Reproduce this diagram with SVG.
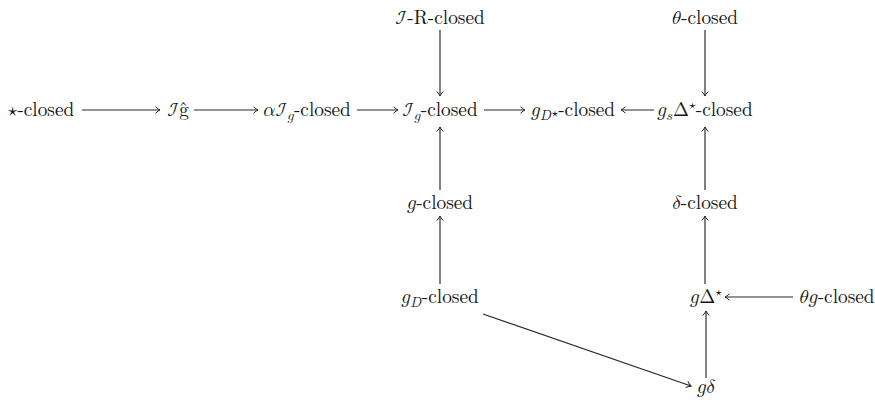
<svg xmlns="http://www.w3.org/2000/svg" width="875" height="402" viewBox="0 0 875 402">
  <style>
    text { font-family: "Latin Modern Roman"; font-size: 19.3px; fill: #151515; text-anchor: middle; }
    .mm { font-family: "Latin Modern Math"; }
    .sub { font-size: 13.6px; }
    .edge { stroke: #262626; stroke-width: 1.15; fill: none; marker-end: url(#tip); }
  </style>
  <defs>
    <marker id="tip" viewBox="-6 -4 7 8" markerWidth="7" markerHeight="8" refX="0" refY="0" orient="auto" markerUnits="userSpaceOnUse">
      <path d="M -4.5 -3.2 Q -1.5 -0.6 0 0 Q -1.5 0.6 -4.5 3.2" stroke="#262626" stroke-width="1" fill="none"/>
    </marker>
  </defs>

  <g id="connectors">
    <line class="edge" x1="82" y1="110" x2="160" y2="110"/>
    <line class="edge" x1="194" y1="110" x2="258" y2="110"/>
    <line class="edge" x1="357" y1="110" x2="398" y2="110"/>
    <line class="edge" x1="484" y1="110" x2="525" y2="110"/>
    <line class="edge" x1="654" y1="110" x2="621" y2="110"/>
    <line class="edge" x1="440" y1="30" x2="440" y2="96"/>
    <line class="edge" x1="705" y1="30" x2="705" y2="96"/>
    <line class="edge" x1="440" y1="190" x2="440" y2="127"/>
    <line class="edge" x1="705" y1="190" x2="705" y2="127"/>
    <line class="edge" x1="440" y1="284" x2="440" y2="216"/>
    <line class="edge" x1="705" y1="284" x2="705" y2="216"/>
    <line class="edge" x1="793" y1="297" x2="725" y2="297"/>
    <line class="edge" x1="706" y1="378" x2="706" y2="311"/>
    <line class="edge" x1="483" y1="314" x2="691" y2="386"/>
  </g>

  <g id="star-closed"><text x="41" y="116"><tspan class="mm">⋆</tspan>-closed</text></g>
  <g id="Ig-hat"><text x="178" y="116"><tspan class="mm">ℐ</tspan>ĝ</text></g>
  <g id="alpha-Ig-closed"><text x="307" y="116"><tspan class="mm">𝛼ℐ</tspan><tspan class="mm sub" dy="4">𝑔</tspan><tspan dy="-4">-closed</tspan></text></g>
  <g id="Ig-closed"><text x="440" y="116"><tspan class="mm">ℐ</tspan><tspan class="mm sub" dy="4">𝑔</tspan><tspan dy="-4">-closed</tspan></text></g>
  <g id="gDstar-closed"><text x="573" y="116"><tspan class="mm">𝑔</tspan><tspan class="mm sub" dy="4">𝐷</tspan><tspan class="mm sub" dy="-3">⋆</tspan><tspan dy="-1">-closed</tspan></text></g>
  <g id="gsDelta-closed"><text x="705" y="116"><tspan class="mm">𝑔</tspan><tspan class="mm sub" dy="4">𝑠</tspan><tspan class="mm" dy="-4">Δ</tspan><tspan class="mm sub" dy="-7">⋆</tspan><tspan dy="7">-closed</tspan></text></g>
  <g id="IR-closed"><text x="440" y="24"><tspan class="mm">ℐ</tspan>-R-closed</text></g>
  <g id="theta-closed"><text x="705" y="24"><tspan class="mm">𝜃</tspan>-closed</text></g>
  <g id="g-closed"><text x="440" y="209"><tspan class="mm">𝑔</tspan>-closed</text></g>
  <g id="delta-closed"><text x="705" y="209"><tspan class="mm">𝛿</tspan>-closed</text></g>
  <g id="gD-closed"><text x="440" y="303"><tspan class="mm">𝑔</tspan><tspan class="mm sub" dy="4">𝐷</tspan><tspan dy="-4">-closed</tspan></text></g>
  <g id="gDelta-star"><text x="706" y="303"><tspan class="mm">𝑔Δ</tspan><tspan class="mm sub" dy="-7">⋆</tspan></text></g>
  <g id="thetag-closed"><text x="837" y="303"><tspan class="mm">𝜃𝑔</tspan>-closed</text></g>
  <g id="g-delta"><text x="706" y="393"><tspan class="mm">𝑔𝛿</tspan></text></g>
</svg>
